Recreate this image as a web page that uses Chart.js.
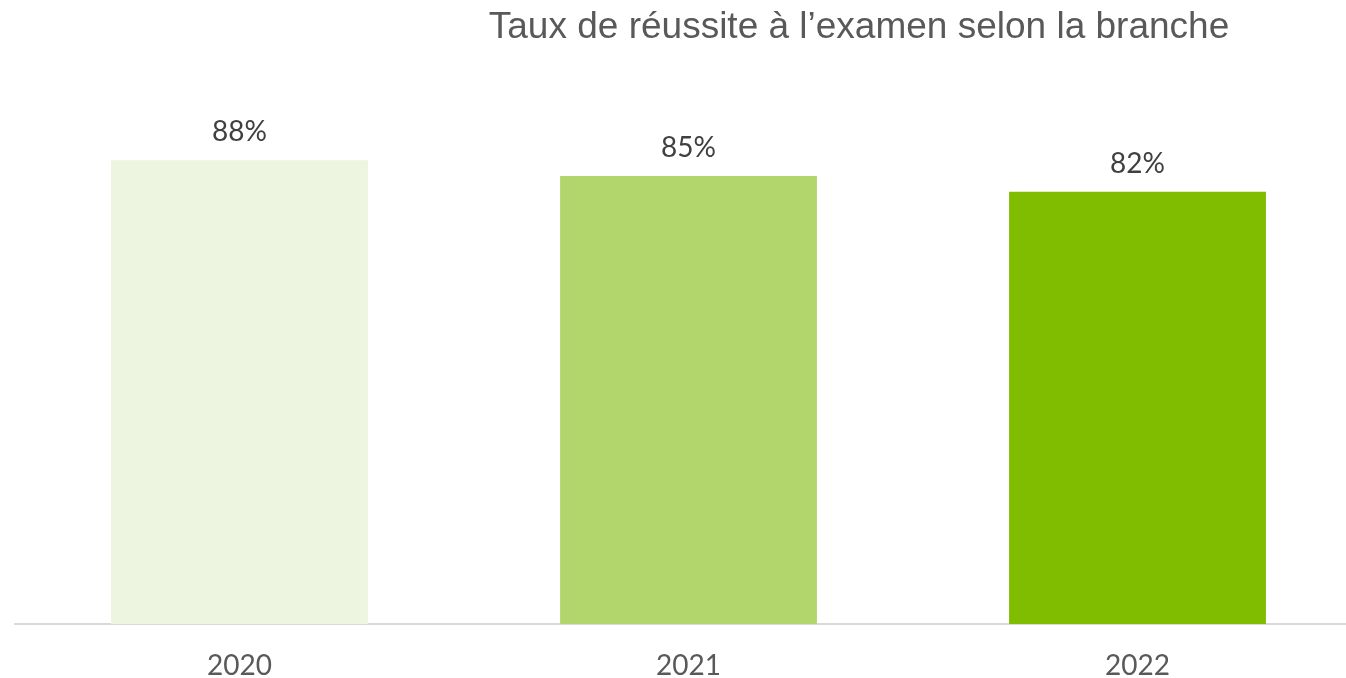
<!DOCTYPE html>
<html lang="fr">
<head>
<meta charset="utf-8">
<title>Taux de réussite à l’examen selon la branche</title>
<script src="https://cdn.jsdelivr.net/npm/chart.js@4/dist/chart.umd.min.js"></script>
<style>
  html, body { margin: 0; padding: 0; background: #fff; overflow: hidden; }
  #wrap { position: relative; width: 1362px; height: 708px; }
  #title {
    position: absolute; left: 0; top: 8px; width: 1718px;
    text-align: center; font: 37px/36px "Liberation Sans", Arial, sans-serif;
    color: #595959; white-space: nowrap; z-index: 2;
  }
  #chart { position: absolute; left: 0; top: 0; }
</style>
</head>
<body>
<div id="wrap">
  <div id="title">Taux de réussite à l’examen selon la branche</div>
  <canvas id="chart" width="1362" height="708"></canvas>
</div>
<script>
// === Data ===
const years = ['2020', '2021', '2022'];
const passRates = [88, 85, 82];
const barColors = ['#EDF5E0', '#B2D66B', '#80BC00'];

// small inline plugin: value labels above each bar
const valueLabels = {
    id: 'valueLabels',
    afterDatasetsDraw(chart) {
        const ctx = chart.ctx;
        const meta = chart.getDatasetMeta(0);
        ctx.save();
        ctx.font = '28px Lato, "Open Sans", sans-serif';
        ctx.fillStyle = '#404040';
        ctx.textAlign = 'center';
        ctx.textBaseline = 'alphabetic';
        meta.data.forEach((bar, i) => {
            ctx.fillText(passRates[i] + '%', bar.x, bar.y - 19);
        });
        ctx.restore();
    }
};

document.addEventListener('DOMContentLoaded', () => {
    const ctx = document.getElementById('chart').getContext('2d');
    new Chart(ctx, {
        type: 'bar',
        data: {
            labels: years,
            datasets: [{
                label: 'Taux de réussite',
                data: passRates,
                backgroundColor: barColors,
                borderWidth: 0,
                categoryPercentage: 1,
                barPercentage: 0.572,
            }]
        },
        options: {
            responsive: false,
            animation: false,
            layout: { padding: { left: 15, right: 0, top: 97, bottom: 0 } },
            plugins: {
                legend: { display: false },
                title: { display: false },
                tooltip: { enabled: false },
            },
            scales: {
                x: {
                    grid: { display: false, drawTicks: false },
                    border: { display: true, color: '#d9d9d9', width: 2 },
                    ticks: {
                        color: '#595959',
                        font: { family: 'Lato, "Open Sans", sans-serif', size: 28, lineHeight: 1 },
                        padding: 28,
                    }
                },
                y: {
                    display: false,
                    min: 0,
                    max: 100,
                }
            }
        },
        plugins: [valueLabels]
    });
});
</script>
</body>
</html>
